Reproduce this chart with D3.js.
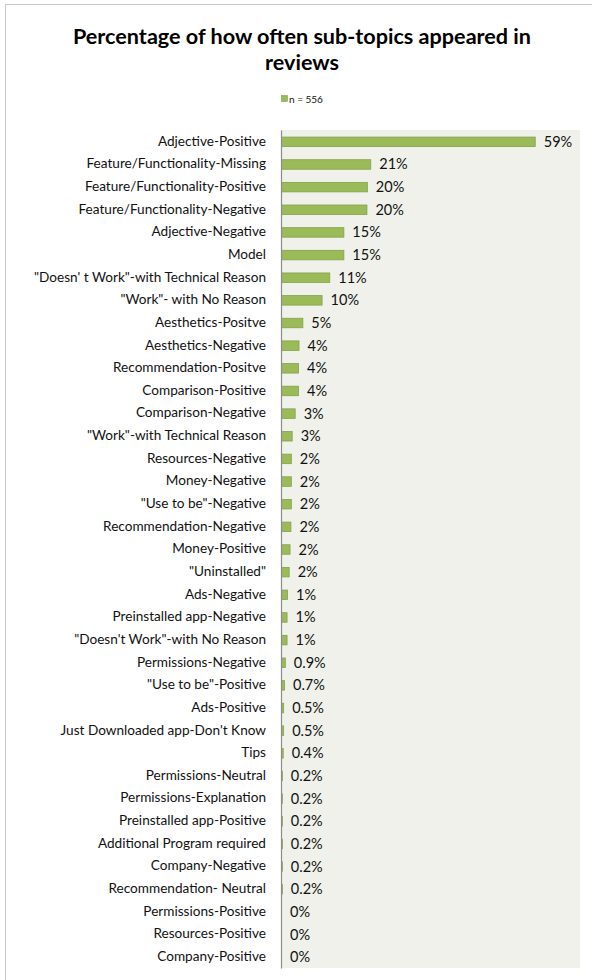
<!DOCTYPE html>
<html>
<head>
<meta charset="utf-8">
<script src="https://cdn.jsdelivr.net/npm/d3@7"></script>
<style>
  body { margin: 0; background: #fff; }
  svg { display: block; font-family: Lato, "Open Sans", sans-serif; }
</style>
</head>
<body>
<svg id="chart" width="592" height="980"></svg>
<script>
// categories, top to bottom
const categories = [
  'Adjective-Positive', 'Feature/Functionality-Missing', 'Feature/Functionality-Positive',
  'Feature/Functionality-Negative', 'Adjective-Negative', 'Model',
  '"Doesn\' t Work"-with Technical Reason', '"Work"- with No Reason', 'Aesthetics-Positve',
  'Aesthetics-Negative', 'Recommendation-Positve', 'Comparison-Positive',
  'Comparison-Negative', '"Work"-with Technical Reason', 'Resources-Negative',
  'Money-Negative', '"Use to be"-Negative', 'Recommendation-Negative',
  'Money-Positive', '"Uninstalled"', 'Ads-Negative',
  'Preinstalled app-Negative', '"Doesn\'t Work"-with No Reason', 'Permissions-Negative',
  '"Use to be"-Positive', 'Ads-Positive', 'Just Downloaded app-Don\'t Know',
  'Tips', 'Permissions-Neutral', 'Permissions-Explanation',
  'Preinstalled app-Positive', 'Additional Program required', 'Company-Negative',
  'Recommendation- Neutral', 'Permissions-Positive', 'Resources-Positive',
  'Company-Positive'
];

// percent of reviews (n = 556)
const values = [
  59.4, 20.9, 20.1, 20.0, 14.6, 14.6,
  11.3, 9.5, 5.0, 4.1, 4.0, 4.0,
  3.2, 2.5, 2.3, 2.3, 2.3, 2.2,
  2.0, 1.8, 1.4, 1.3, 1.3, 0.9,
  0.7, 0.5, 0.5, 0.4, 0.2, 0.2,
  0.2, 0.2, 0.2, 0.2, 0, 0, 0
];

// value labels as printed
const valueLabels = [
  '59%', '21%', '20%', '20%', '15%', '15%',
  '11%', '10%', '5%', '4%', '4%', '4%',
  '3%', '3%', '2%', '2%', '2%', '2%',
  '2%', '2%', '1%', '1%', '1%', '0.9%',
  '0.7%', '0.5%', '0.5%', '0.4%', '0.2%', '0.2%',
  '0.2%', '0.2%', '0.2%', '0.2%', '0%', '0%', '0%'
];

const seriesName = 'n = 556';

// colors
const BAR = '#9BBB59';
const BAR_EDGE = '#84A14A';
const PLOT_BG = '#EFF1EA';
const AXIS = '#8C8C8C';
const TEXT = '#111111';

const svg = d3.select('#chart');

// chart border
svg.append('rect')
  .attr('x', 5.5).attr('y', 4.5)
  .attr('width', 620).attr('height', 1000)
  .attr('fill', '#fff')
  .attr('stroke', '#C8C8C8');

// title
const title = svg.append('text')
  .attr('text-anchor', 'middle')
  .attr('font-size', 21.6)
  .attr('font-weight', 'bold')
  .attr('fill', '#000');
title.append('tspan').attr('x', 302).attr('y', 44).text('Percentage of how often sub-topics appeared in');
title.append('tspan').attr('x', 302).attr('y', 70).text('reviews');

// legend
svg.append('rect')
  .attr('x', 281.5).attr('y', 95.5)
  .attr('width', 6).attr('height', 6)
  .attr('fill', BAR).attr('stroke', BAR_EDGE).attr('stroke-width', 0.6);
svg.append('text')
  .attr('x', 289).attr('y', 102.5)
  .attr('font-size', 10)
  .attr('fill', TEXT)
  .text(seriesName);

// scales
const x = d3.scaleLinear().domain([0, 70]).range([281, 580]);
const y = d3.scaleBand().domain(categories).range([130, 968]).paddingInner(0.58).paddingOuter(0.29);

// plot area
svg.append('rect')
  .attr('x', x(0)).attr('y', 130)
  .attr('width', x(70) - x(0)).attr('height', 968 - 130)
  .attr('fill', PLOT_BG);

const rows = categories.map((c, i) => ({ cat: c, v: values[i], label: valueLabels[i] }));

// bars
svg.append('g')
  .selectAll('rect')
  .data(rows)
  .join('rect')
  .attr('x', x(0) + 0.5)
  .attr('y', d => y(d.cat) + 0.5)
  .attr('width', d => Math.max(0, x(d.v) - x(0)))
  .attr('height', y.bandwidth())
  .attr('fill', BAR)
  .attr('stroke', d => d.v > 0 ? BAR_EDGE : 'none')
  .attr('stroke-width', 0.8);

// value labels
svg.append('g')
  .selectAll('text')
  .data(rows)
  .join('text')
  .attr('x', d => x(d.v) + 9)
  .attr('y', d => y(d.cat) + y.bandwidth() / 2)
  .attr('dy', '0.38em')
  .attr('font-size', 14.5)
  .attr('fill', TEXT)
  .text(d => d.label);

// category axis
const axis = svg.append('g')
  .attr('transform', `translate(${x(0)},0)`)
  .call(d3.axisLeft(y).tickSize(0).tickPadding(15));
axis.select('.domain').attr('stroke', AXIS).attr('stroke-width', 1.2);
axis.selectAll('text')
  .attr('font-size', 13.6)
  .attr('font-family', 'Lato, "Open Sans", sans-serif')
  .attr('fill', TEXT);
</script>
</body>
</html>
